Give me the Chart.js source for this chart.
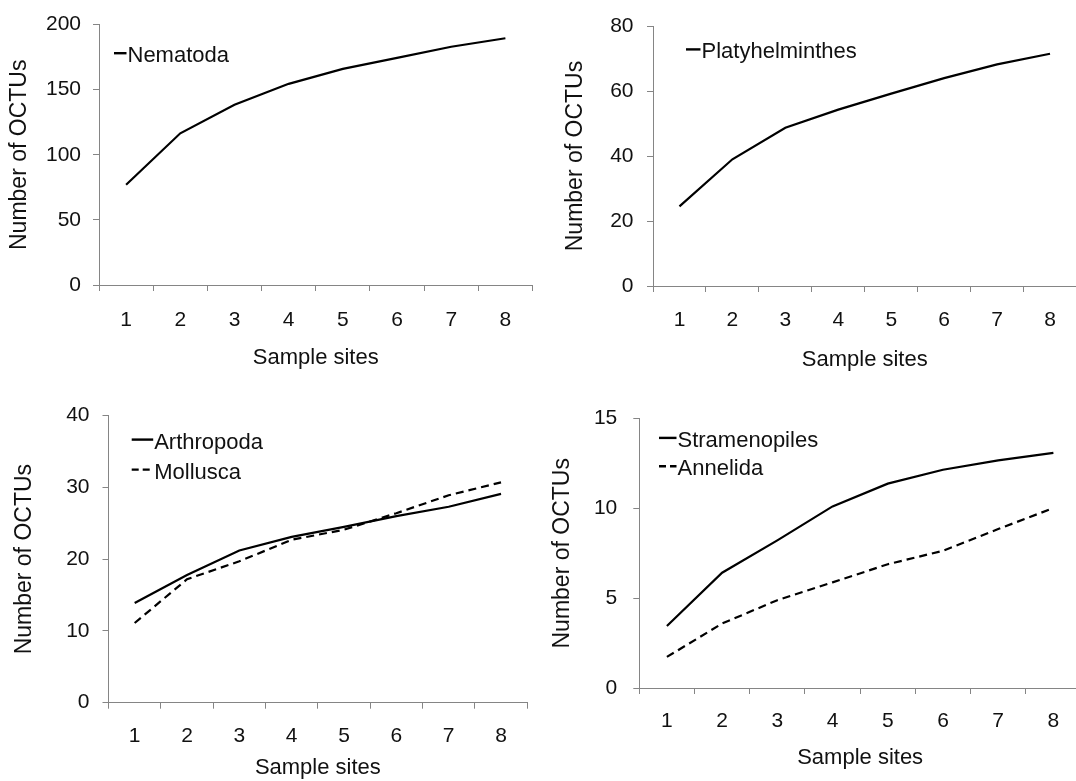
<!DOCTYPE html>
<html>
<head>
<meta charset="utf-8">
<script src="https://cdn.jsdelivr.net/npm/chart.js@4.4.1/dist/chart.umd.min.js"></script>
<style>
  html, body { margin: 0; padding: 0; background: #fff; }
  #wrap { position: relative; width: 1076px; height: 781px; overflow: hidden; background: #fff; }
  #wrap canvas { position: absolute; }
</style>
</head>
<body>
<div id="wrap">
  <canvas id="c1"></canvas>
  <canvas id="c2"></canvas>
  <canvas id="c3"></canvas>
  <canvas id="c4"></canvas>
</div>
<script>
// Sampling sites along the x axis
const sites = ['1', '2', '3', '4', '5', '6', '7', '8'];

// Cumulative OCTU counts per taxon
const nematoda        = [77, 116.5, 138.5, 154.5, 166, 174.5, 183, 189.5];
const platyhelminthes = [24.5, 39, 48.7, 54.3, 59.2, 64, 68.2, 71.5];
const arthropoda      = [13.9, 17.8, 21.2, 23.1, 24.5, 26, 27.3, 29.1];
const mollusca        = [11.1, 17.2, 19.7, 22.7, 24.1, 26.4, 28.9, 30.7];
const stramenopiles   = [3.45, 6.42, 8.22, 10.11, 11.38, 12.15, 12.67, 13.09];
const annelida        = [1.73, 3.59, 4.89, 5.88, 6.89, 7.64, 8.85, 10.02];

// Axis ranges per panel
const yMaxes = [200, 80, 40, 15];
const ySteps = [50, 20, 10, 5];

const FONT = "'Liberation Sans', Arial, Helvetica, sans-serif";
const AXIS_GREY = '#858585';
const TEXT = '#111111';

// Draws a small legend (short line sample + label) inside the plot area
const insetLegend = {
  id: 'insetLegend',
  afterDraw(chart, args, opts) {
    const { ctx, chartArea } = chart;
    ctx.save();
    ctx.font = opts.fontSize + 'px ' + FONT;
    ctx.textBaseline = 'middle';
    ctx.textAlign = 'left';
    chart.data.datasets.forEach((ds, i) => {
      const x0 = chartArea.left + opts.dx;
      const y0 = chartArea.top + opts.dy + i * opts.gap;
      ctx.strokeStyle = ds.borderColor;
      ctx.lineWidth = 2.4;
      ctx.setLineDash(ds.borderDash && ds.borderDash.length ? [7, 4] : []);
      ctx.beginPath();
      ctx.moveTo(x0, y0);
      ctx.lineTo(x0 + opts.len, y0);
      ctx.stroke();
      ctx.setLineDash([]);
      ctx.fillStyle = TEXT;
      ctx.fillText(ds.label, x0 + opts.len + 1, y0 + 3);
    });
    ctx.restore();
  }
};

function series(label, data, dashed) {
  return {
    label, data,
    borderColor: '#000',
    backgroundColor: '#000',
    borderWidth: 2.2,
    borderDash: dashed ? [8, 5] : [],
    pointRadius: 0,
    pointHoverRadius: 0,
    tension: 0,
    fill: false
  };
}

function panel(id, p) {
  const { box, area } = p;
  const cv = document.getElementById(id);
  cv.width = box.w; cv.height = box.h;
  cv.style.left = box.left + 'px';
  cv.style.top = box.top + 'px';
  cv.style.width = box.w + 'px';
  cv.style.height = box.h + 'px';

  const yWidth = area.l - box.left;
  const xHeight = box.top + box.h - area.b;

  return new Chart(cv, {
    type: 'line',
    data: { labels: sites, datasets: p.datasets },
    plugins: [insetLegend],
    options: {
      responsive: false,
      animation: false,
      devicePixelRatio: 1,
      layout: {
        padding: {
          left: 0,
          top: area.t - box.top,
          right: box.left + box.w - area.r,
          bottom: 0
        }
      },
      plugins: {
        legend: { display: false },
        tooltip: { enabled: false },
        insetLegend: p.legend
      },
      scales: {
        x: {
          type: 'category',
          offset: true,
          grid: {
            offset: true,
            drawOnChartArea: false,
            drawTicks: true,
            tickLength: 6,
            color: AXIS_GREY,
            lineWidth: 1
          },
          border: { display: true, color: AXIS_GREY, width: 1 },
          ticks: {
            font: { family: FONT, size: 21 },
            color: TEXT,
            padding: p.xTickPad,
            maxRotation: 0,
            autoSkip: false
          },
          title: {
            display: true,
            text: 'Sample sites',
            font: { family: FONT, size: 22 },
            color: TEXT,
            padding: { top: 0, bottom: p.xTitlePad }
          },
          afterFit(scale) { scale.height = xHeight; }
        },
        y: {
          min: 0,
          max: p.yMax,
          ticks: {
            stepSize: p.yStep,
            font: { family: FONT, size: 21 },
            color: TEXT,
            padding: p.yTickPad
          },
          grid: {
            drawOnChartArea: false,
            drawTicks: true,
            tickLength: 6,
            color: AXIS_GREY,
            lineWidth: 1
          },
          border: { display: true, color: AXIS_GREY, width: 1 },
          title: {
            display: true,
            text: 'Number of OCTUs',
            font: { family: FONT, size: 23 },
            color: TEXT,
            padding: { top: p.yTitlePad, bottom: 0 }
          },
          afterFit(scale) { scale.width = yWidth; }
        }
      }
    }
  });
}

panel('c1', {
  box: { left: 0, top: 0, w: 540, h: 390 },
  area: { l: 99, t: 20.7, r: 532.5, b: 285 },
  datasets: [series('Nematoda', nematoda, false)],
  yMax: yMaxes[0], yStep: ySteps[0],
  yTickPad: 12, xTickPad: 16.4, yTitlePad: 6, xTitlePad: 18.5,
  legend: { dx: 15, dy: 28.6, gap: 29, len: 12.5, fontSize: 22 }
});

panel('c2', {
  box: { left: 540, top: 0, w: 560, h: 390 },
  area: { l: 653, t: 26, r: 1076.5, b: 286 },
  datasets: [series('Platyhelminthes', platyhelminthes, false)],
  yMax: yMaxes[1], yStep: ySteps[1],
  yTickPad: 13.5, xTickPad: 15.4, yTitlePad: 22, xTitlePad: 16.8,
  legend: { dx: 33, dy: 23.3, gap: 29, len: 14.5, fontSize: 22 }
});

panel('c3', {
  box: { left: 0, top: 390, w: 540, h: 391 },
  area: { l: 108.5, t: 404.3, r: 527.2, b: 702.7 },
  datasets: [series('Arthropoda', arthropoda, false), series('Mollusca', mollusca, true)],
  yMax: yMaxes[2], yStep: ySteps[2],
  yTickPad: 13, xTickPad: 15.4, yTitlePad: 10.5, xTitlePad: 0,
  legend: { dx: 23.2, dy: 24, gap: 30, len: 21.5, fontSize: 22 }
});

panel('c4', {
  box: { left: 540, top: 390, w: 560, h: 391 },
  area: { l: 639.3, t: 410.7, r: 1081, b: 688 },
  datasets: [series('Stramenopiles', stramenopiles, false), series('Annelida', annelida, true)],
  yMax: yMaxes[3], yStep: ySteps[3],
  yTickPad: 16, xTickPad: 15.1, yTitlePad: 9, xTitlePad: 9.5,
  legend: { dx: 19.7, dy: 19.3, gap: 28.3, len: 17.5, fontSize: 22 }
});
</script>
</body>
</html>
